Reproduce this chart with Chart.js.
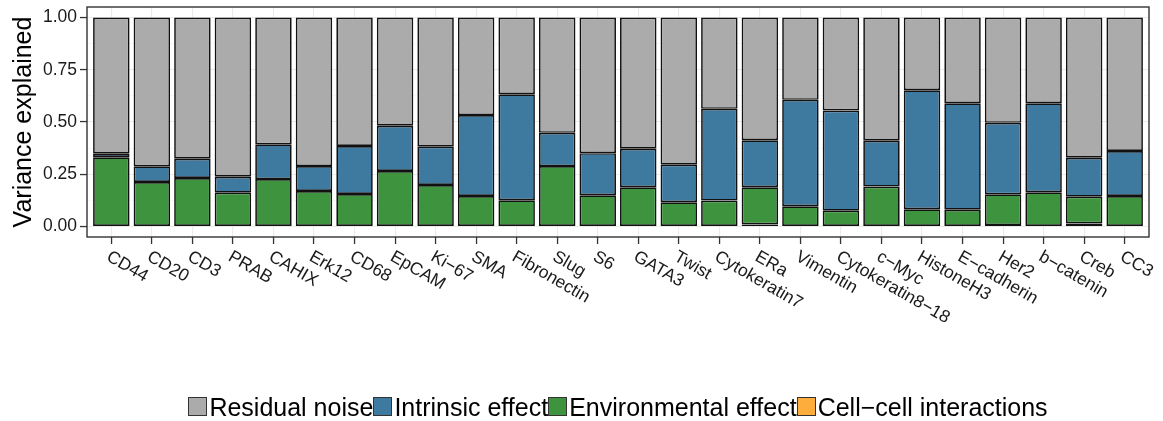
<!DOCTYPE html>
<html>
<head>
<meta charset="utf-8">
<script src="https://cdn.jsdelivr.net/npm/chart.js@4.4.1/dist/chart.umd.min.js"></script>
<style>
  body { margin: 0; background: #fff; }
  #wrap { position: relative; width: 1163px; height: 421px; }
  #legend {
    position: absolute; left: 87px; width: 1062px; top: 393px;
    text-align: center; white-space: nowrap; color: #000;
    font-family: "Liberation Sans", Arial, Helvetica, sans-serif;
    font-size: 25px; line-height: normal;
  }
  #legend .key {
    display: inline-block; width: 17px; height: 17px;
    border: 1px solid #333; margin-right: 2px; vertical-align: baseline;
  }
</style>
</head>
<body>
<div id="wrap">
  <canvas id="varianceBar" width="1163" height="421"></canvas>
  <div id="legend"></div>
</div>
<script>
const markers = ["CD44", "CD20", "CD3", "PRAB", "CAHIX", "Erk12", "CD68", "EpCAM", "Ki\u221267", "SMA",
  "Fibronectin", "Slug", "S6", "GATA3", "Twist", "Cytokeratin7", "ERa", "Vimentin", "Cytokeratin8\u221218",
  "c\u2212Myc", "HistoneH3", "E\u2212cadherin", "Her2", "b\u2212catenin", "Creb", "CC3"];

const cellCell = [0.003, 0.003, 0.003, 0.003, 0.003, 0.003, 0.003, 0.003, 0.003, 0.003, 0.003, 0.003, 0.003,
  0.003, 0.003, 0.003, 0.010, 0.003, 0.003, 0.003, 0.003, 0.003, 0.007, 0.003, 0.015, 0.003];
const environmental = [0.328, 0.210, 0.229, 0.159, 0.224, 0.167, 0.153, 0.263, 0.196, 0.143, 0.123, 0.286, 0.147,
  0.185, 0.113, 0.121, 0.178, 0.094, 0.073, 0.188, 0.080, 0.077, 0.147, 0.161, 0.128, 0.143];
const intrinsic = [0.017, 0.075, 0.092, 0.076, 0.166, 0.119, 0.229, 0.216, 0.183, 0.387, 0.507, 0.159, 0.201,
  0.184, 0.180, 0.439, 0.225, 0.509, 0.479, 0.219, 0.569, 0.510, 0.342, 0.426, 0.186, 0.215];
const residual = [0.652, 0.712, 0.676, 0.762, 0.607, 0.711, 0.615, 0.518, 0.618, 0.467, 0.367, 0.552, 0.649,
  0.628, 0.704, 0.437, 0.587, 0.394, 0.445, 0.590, 0.348, 0.410, 0.504, 0.410, 0.671, 0.639];

const seriesNames = ["Cell\u2212cell interactions", "Environmental effect", "Intrinsic effect", "Residual noise"];
const seriesColors = ["#FCAD3C", "#3E933F", "#3E79A0", "#ABABAB"];
const yTicks = [0, 0.25, 0.5, 0.75, 1];
const yMinorTicks = [0.125, 0.375, 0.625, 0.875];

const fontFamily = '"Liberation Sans", Arial, Helvetica, sans-serif';
const isMajor = (ctx) => ctx.tick && yTicks.includes(ctx.tick.value);

// ggplot style box round the panel, drawn on top
const panelBorder = {
  id: "panelBorder",
  afterDraw(chart) {
    const { ctx, chartArea: a } = chart;
    ctx.save();
    ctx.strokeStyle = "#333333";
    ctx.lineWidth = 1.4;
    ctx.strokeRect(a.left, a.top, a.right - a.left, a.bottom - a.top);
    ctx.restore();
  },
};

// x labels hang from the tick, turned 30 degrees clockwise
const slantedLabels = {
  id: "slantedLabels",
  afterDraw(chart) {
    const { ctx } = chart;
    const xScale = chart.scales.x;
    ctx.save();
    ctx.font = `17.5px ${fontFamily}`;
    ctx.fillStyle = "#1a1a1a";
    ctx.textAlign = "left";
    ctx.textBaseline = "top";
    markers.forEach((label, i) => {
      ctx.save();
      ctx.translate(xScale.getPixelForTick(i) + 1, xScale.top + 11);
      ctx.rotate(Math.PI / 6);
      ctx.fillText(label, 0, 0);
      ctx.restore();
    });
    ctx.restore();
  },
};

const seriesData = [cellCell, environmental, intrinsic, residual];
const datasets = seriesData.map((data, i) => ({
  label: seriesNames[i],
  data: data,
  backgroundColor: seriesColors[i],
  borderColor: "#111111",
  borderWidth: 1.7,
  borderSkipped: false,
  barPercentage: 1,
  categoryPercentage: 0.9,
}));

const ctx = document.getElementById("varianceBar").getContext("2d");
const varianceChart = new Chart(ctx, {
  type: "bar",
  data: {
    labels: markers,
    datasets: datasets,
  },
  options: {
    responsive: false,
    animation: false,
    layout: {
      padding: { top: 7, right: 14, left: 0, bottom: 0 },
    },
    scales: {
      x: {
        stacked: true,
        offset: true,
        afterBuildTicks: (scale) => {
          // discrete axis padded by 0.6 of a step on each side
          scale._startValue = -0.6;
          scale._valueRange = markers.length + 0.2;
        },
        afterFit: (scale) => {
          scale.height = 184;
          scale.paddingLeft = 0;
          scale.paddingRight = 0;
        },
        ticks: { display: false },
        grid: {
          offset: false,
          color: "#EBEBEB",
          lineWidth: 1.1,
          tickColor: "#333333",
          tickWidth: 1.3,
          tickLength: 7,
        },
        border: { display: false },
      },
      y: {
        stacked: true,
        min: -0.05,
        max: 1.05,
        afterBuildTicks: (scale) => {
          scale.ticks = [...yTicks, ...yMinorTicks]
            .sort((a, b) => a - b)
            .map((v) => ({ value: v }));
        },
        afterFit: (scale) => {
          scale.width = 87;
          scale.paddingTop = 0;
          scale.paddingBottom = 0;
        },
        ticks: {
          autoSkip: false,
          padding: 3,
          color: "#1a1a1a",
          font: { family: fontFamily, size: 17.5 },
          callback: (value) => (yTicks.includes(value) ? value.toFixed(2) : ""),
        },
        grid: {
          color: (c) => (isMajor(c) ? "#EBEBEB" : "#F4F4F4"),
          lineWidth: (c) => (isMajor(c) ? 1.1 : 0.6),
          tickColor: (c) => (isMajor(c) ? "#333333" : "rgba(0,0,0,0)"),
          tickWidth: 1.3,
          tickLength: 7,
        },
        border: { display: false },
        title: {
          display: true,
          text: "Variance explained",
          color: "#000",
          font: { family: fontFamily, size: 25 },
          padding: { top: 9, bottom: 0 },
        },
      },
    },
    plugins: {
      legend: { display: false },
      tooltip: { enabled: false },
    },
  },
  plugins: [panelBorder, slantedLabels],
});

const legendEl = document.getElementById("legend");
varianceChart.data.datasets
  .slice()
  .reverse()
  .forEach((ds) => {
    const key = document.createElement("span");
    key.className = "key";
    key.style.background = ds.backgroundColor;
    legendEl.appendChild(key);
    legendEl.appendChild(document.createTextNode(ds.label));
  });
</script>
</body>
</html>
